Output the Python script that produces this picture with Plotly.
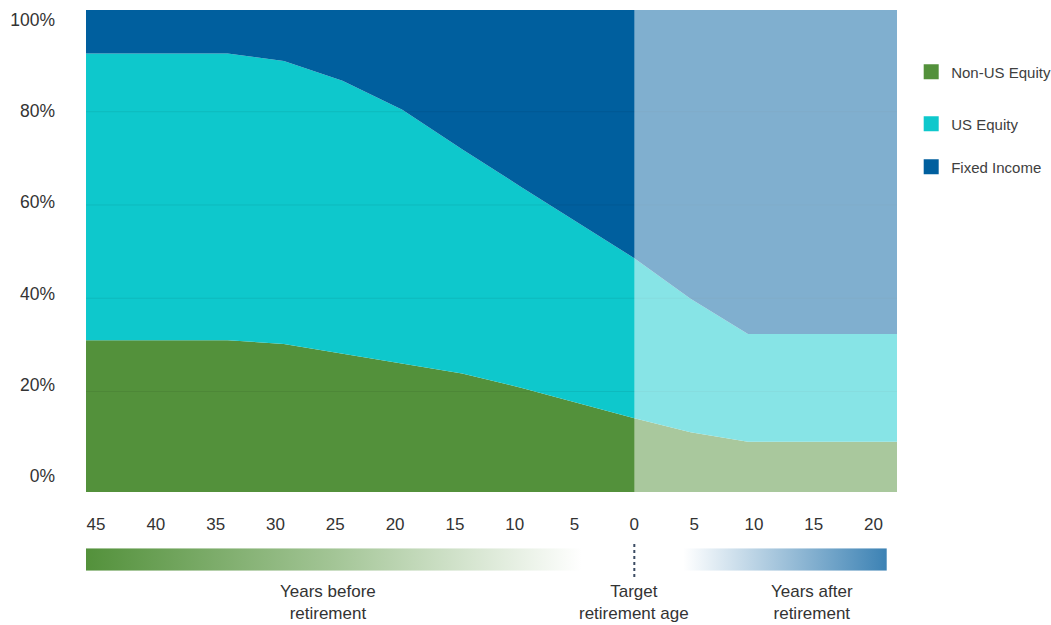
import plotly.graph_objects as go

# ---------------- data ----------------
years = [-46, -34, -29.3, -24.4, -19.4, -14.4, -9.4, -4.6, 0, 4.7, 9.5, 22]
non_us_equity = [31.5, 31.5, 30.7, 28.7, 26.6, 24.6, 21.6, 18.4, 15.3, 12.4, 10.4, 10.4]
us_equity = [59.5, 59.5, 58.7, 56.6, 52.7, 46.5, 41.6, 37.2, 33.2, 27.7, 22.4, 22.4]
fixed_income = [9.0, 9.0, 10.6, 14.7, 20.7, 28.9, 36.8, 44.4, 51.5, 59.9, 67.2, 67.2]

series_names = ["Non-US Equity", "US Equity", "Fixed Income"]
tick_years = [-45, -40, -35, -30, -25, -20, -15, -10, -5, 0, 5, 10, 15, 20]
tick_year_labels = [str(abs(v)) for v in tick_years]
pct_ticks = [0, 20, 40, 60, 80, 100]
pct_labels = [f"{v}%" for v in pct_ticks]
grid_pcts = [20, 40, 60, 80]

# ---------------- styling ----------------
COLORS = ["#53913B", "#0EC8CC", "#005F9E"]
FONT = "Liberation Sans, Arial, sans-serif"
TXT = "#333333"
W, H = 1051, 625
X_RANGE = [-45.84, 21.96]
BAR_BEFORE = (-45.84, -4.4)
BAR_AFTER = (4.1, 21.1)

def px_y(p):
    return 1 - p / H

fig = go.Figure()

for name, vals, col in zip(series_names, [non_us_equity, us_equity, fixed_income], COLORS):
    fig.add_trace(go.Scatter(
        x=years, y=vals, name=name, mode="lines", stackgroup="alloc",
        line=dict(width=0, color=col), fillcolor=col, showlegend=False,
        hoverinfo="skip"))

# placeholder traces so the label / grid axes are drawn
fig.add_trace(go.Scatter(x=[years[0]], y=[None], yaxis="y3", mode="markers",
                         showlegend=False, hoverinfo="skip"))
fig.add_trace(go.Scatter(x=[years[0]], y=[None], yaxis="y4", mode="markers",
                         showlegend=False, hoverinfo="skip"))

# legend-only markers, one legend each
for i, (name, col) in enumerate(zip(series_names, COLORS)):
    fig.add_trace(go.Scatter(
        x=[None], y=[None], mode="markers", name=name,
        marker=dict(symbol="square", size=15, color=col),
        legend="legend" if i == 0 else f"legend{i+1}"))

# gradient bars under the axis
fig.add_trace(go.Scatter(
    x=[BAR_BEFORE[0], BAR_BEFORE[1], BAR_BEFORE[1], BAR_BEFORE[0], BAR_BEFORE[0]],
    y=[0, 0, 1, 1, 0], xaxis="x2", yaxis="y2", mode="lines", fill="toself",
    line=dict(width=0), showlegend=False, hoverinfo="skip",
    fillgradient=dict(type="horizontal",
                      colorscale=[[0, "#53913B"], [0.5, "#A3C596"], [1, "rgba(255,255,255,1)"]])))
fig.add_trace(go.Scatter(
    x=[BAR_AFTER[0], BAR_AFTER[1], BAR_AFTER[1], BAR_AFTER[0], BAR_AFTER[0]],
    y=[0, 0, 1, 1, 0], xaxis="x2", yaxis="y2", mode="lines", fill="toself",
    line=dict(width=0), showlegend=False, hoverinfo="skip",
    fillgradient=dict(type="horizontal",
                      colorscale=[[0, "rgba(255,255,255,1)"], [1, "#3C82B4"]])))

x_dom = [86 / W, 897 / W]
y_dom = [px_y(492), px_y(10)]

shapes = []
# gridlines drawn over the fills
for g in grid_pcts:
    shapes.append(dict(type="line", xref="x domain", x0=0, x1=1, yref="y4", y0=g, y1=g,
                       line=dict(color="rgba(0,0,0,0.07)", width=1), layer="above"))
# washed-out after-retirement region
shapes.append(dict(type="rect", xref="x", x0=0, x1=X_RANGE[1], yref="y domain", y0=0, y1=1,
                   fillcolor="rgba(255,255,255,0.5)", line=dict(width=0), layer="above"))
# dotted marker at retirement
shapes.append(dict(type="line", xref="x", x0=0, x1=0, yref="paper", y0=px_y(577), y1=px_y(541),
                   line=dict(color="#3B4B63", width=2, dash="dot")))

legend_common = dict(xanchor="left", yanchor="middle", bgcolor="rgba(0,0,0,0)",
                     xref="container", yref="container",
                     font=dict(family=FONT, size=15, color="#404040"), itemwidth=30)
lx = (951.7 - 40.5) / W

annotations = [
    dict(text="Years before<br>retirement", xref="paper", yref="paper",
         x=328.3 / W, y=px_y(602.5), showarrow=False, xanchor="center", yanchor="middle",
         font=dict(family=FONT, size=17, color=TXT)),
    dict(text="Target<br>retirement age", xref="x", yref="paper",
         x=0, y=px_y(602.5), showarrow=False, xanchor="center", yanchor="middle",
         font=dict(family=FONT, size=17, color=TXT)),
    dict(text="Years after<br>retirement", xref="paper", yref="paper",
         x=811.7 / W, y=px_y(602.5), showarrow=False, xanchor="center", yanchor="middle",
         font=dict(family=FONT, size=17, color=TXT)),
]

fig.update_layout(
    width=W, height=H,
    margin=dict(l=0, r=0, t=0, b=0, autoexpand=False),
    paper_bgcolor="white", plot_bgcolor="white",
    font=dict(family=FONT, color=TXT),
    xaxis=dict(domain=x_dom, range=X_RANGE, tickvals=tick_years, ticktext=tick_year_labels,
               showgrid=False, zeroline=False, showline=False, ticks="",
               tickfont=dict(family=FONT, size=17, color=TXT), ticklabelstandoff=20,
               anchor="y"),
    yaxis=dict(domain=y_dom, range=[0, 100], showgrid=False, zeroline=False,
               showticklabels=False, ticks="", anchor="x"),
    yaxis3=dict(overlaying="y", anchor="x", side="left", range=[-3.51, 102.13],
                tickvals=pct_ticks, ticktext=pct_labels, showgrid=False, zeroline=False,
                ticks="", tickfont=dict(family=FONT, size=17.5, color=TXT),
                ticklabelstandoff=30, showticklabels=True, visible=True),
    yaxis4=dict(overlaying="y", anchor="x", range=[-1.54, 101.8], visible=False),
    xaxis2=dict(domain=x_dom, matches="x", anchor="y2", visible=False),
    yaxis2=dict(domain=[px_y(570.7), px_y(548.3)], range=[0, 1], visible=False, anchor="x2"),
    legend=dict(x=lx, y=px_y(72), **legend_common),
    legend2=dict(x=lx, y=px_y(124), **legend_common),
    legend3=dict(x=lx, y=px_y(167), **legend_common),
    shapes=shapes,
    annotations=annotations,
    hovermode=False,
)

fig.write_html("out.html", config={"displayModeBar": False},
               post_script="document.body.style.margin='0px';")
